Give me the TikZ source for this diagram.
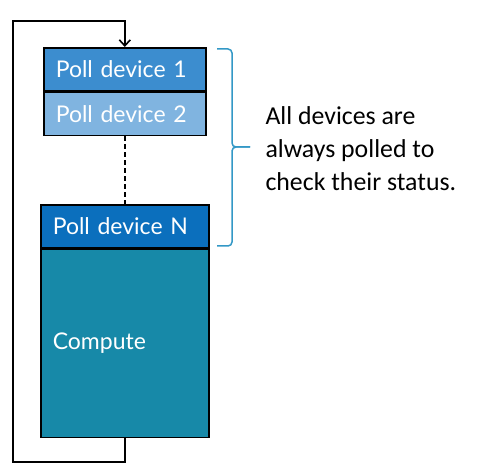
\documentclass[tikz,border=0pt]{standalone}
\usepackage{fontspec}
\setmainfont{Carlito}
\newfontfamily\boxfont{Lato}
\usetikzlibrary{positioning,arrows.meta}
\definecolor{pollone}{HTML}{3C8DCF}
\definecolor{polltwo}{HTML}{80B4E0}
\definecolor{pollN}{HTML}{0B6FBD}
\definecolor{compute}{HTML}{1789A8}
\definecolor{brace}{HTML}{3398C6}
\tikzstyle{poll} = [draw=black, line width=1.6pt, text=white, align=left, inner xsep=12pt, inner ysep=0pt, minimum height=43pt, font=\boxfont\fontsize{23}{26}\selectfont]
\tikzstyle{narrow} = [text width=138pt]
\tikzstyle{wide} = [text width=144pt]

\begin{document}
\begin{tikzpicture}[x=1pt,y=-1pt]
\useasboundingbox (0,0) rectangle (480,468);
\node[poll, narrow, fill=pollone, anchor=north west] (poll1) at (43,47) {Poll device 1};
\node[poll, narrow, fill=polltwo, below=0pt of poll1] (poll2) {Poll device 2};
\node[poll, wide, fill=pollN, anchor=north west] (pollN) at (40,204) {Poll device N};
\node[poll, wide, fill=compute, minimum height=188pt, below=0pt of pollN] (comp) {Compute};
\draw[line width=1.6pt, dashed, dash pattern=on 5pt off 3pt] (poll2) -- (pollN);
% loop back to the first device
\coordinate (loopbot) at (13,462);
\coordinate (looptop) at (13,21);
\draw[line width=1.6pt, -{Straight Barb[length=6pt,width=11pt]}] (comp.south) |- (loopbot) -- (looptop) -| (poll1.north);
% bracket over the polling boxes
\coordinate (bracetop) at (217,49);
\coordinate (bracetip) at (250,147);
\coordinate (bracebot) at (217,246);
\draw[brace, line width=1.5pt, rounded corners=4pt] (bracetop) -| (232,147) -- (bracetip);
\draw[brace, line width=1.5pt, rounded corners=4pt] (bracebot) -| (232,147) -- (bracetip);
\node[anchor=west, align=left, font=\fontsize{25.8}{33}\selectfont] (note) at (262,149) {All devices are\\always polled to\\check their status.};
\end{tikzpicture}
\end{document}
